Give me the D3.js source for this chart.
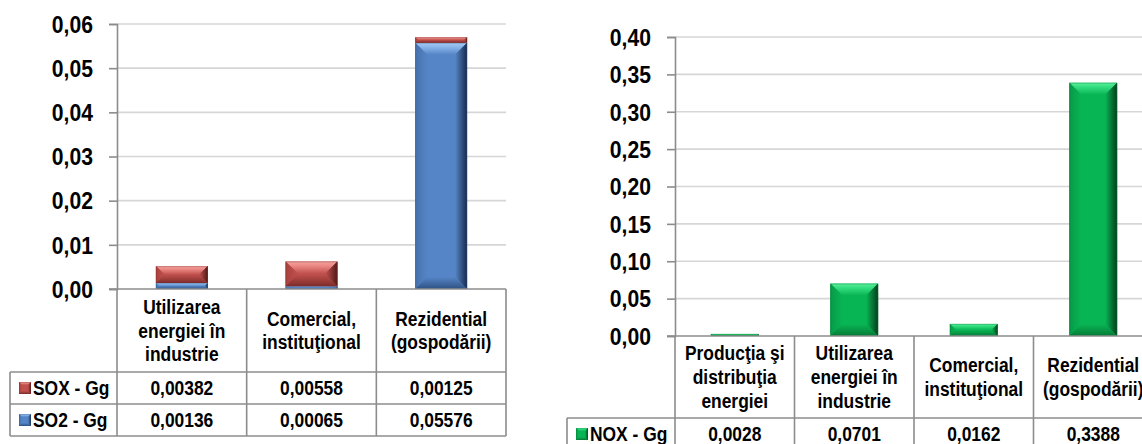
<!DOCTYPE html>
<html>
<head>
<meta charset="utf-8">
<script src="https://cdn.jsdelivr.net/npm/d3@7"></script>
<style>
  html, body { margin: 0; padding: 0; background: #fff; }
  svg { display: block; }
  text { font-family: 'Liberation Sans', Arial, sans-serif; font-weight: bold; fill: #000; }
</style>
</head>
<body>
<svg id="chart" width="1142" height="444"></svg>
<script>
// ---- data ----
const soCategories = ["Utilizarea\nenergiei în\nindustrie", "Comercial,\ninstituţional", "Rezidential\n(gospodării)"];
const soxValues = [0.00382, 0.00558, 0.00125];
const so2Values = [0.00136, 0.00065, 0.05576];
const soSeriesNames = ["SOX - Gg", "SO2 - Gg"];
const soTicks = [0, 0.01, 0.02, 0.03, 0.04, 0.05, 0.06];

const noxCategories = ["Producţia şi\ndistribuţia\nenergiei", "Utilizarea\nenergiei în\nindustrie", "Comercial,\ninstituţional", "Rezidential\n(gospodării)"];
const noxValues = [0.0028, 0.0701, 0.0162, 0.3388];
const noxSeriesNames = ["NOX - Gg"];
const noxTicks = [0, 0.05, 0.10, 0.15, 0.20, 0.25, 0.30, 0.35, 0.40];

// ---- helpers ----
const ro = d3.formatLocale({ decimal: ",", thousands: ".", grouping: [3], currency: ["", ""] });
const svg = d3.select("#chart");
const defs = svg.append("defs");

// condensed look for all labels
const CELL_SX = 0.87;
const TICK_SX = 0.92;

const palettes = {
  red:   { base: "#c0504d", light: "#ec8a86", hi: "#f4a5a1", dark: "#4e1816", bottom: "#7e2d2a", left: "#a9403d" },
  blue:  { base: "#5585c6", light: "#8ab6ea", hi: "#a8ccf4", dark: "#17294a", bottom: "#2f5283", left: "#4672ad" },
  green: { base: "#08b554", light: "#33de80", hi: "#5cf09c", dark: "#053d1c", bottom: "#077a37", left: "#079a47" }
};

// gradients for the bevelled faces of each colour
Object.entries(palettes).forEach(([name, p]) => {
  const lg = (id, x1, y1, x2, y2, stops) => {
    const g = defs.append("linearGradient").attr("id", id)
      .attr("x1", x1).attr("y1", y1).attr("x2", x2).attr("y2", y2);
    stops.forEach(([o, c]) => g.append("stop").attr("offset", o).attr("stop-color", c));
  };
  lg(`${name}-top`, 0, 0, 0, 1, [[0, p.hi], [0.35, p.light], [1, p.base]]);
  lg(`${name}-left`, 0, 0, 1, 0, [[0, p.left], [1, p.base]]);
  lg(`${name}-right`, 0, 0, 1, 0, [[0, p.base], [1, p.dark]]);
  lg(`${name}-bottom`, 0, 0, 0, 1, [[0, p.base], [1, p.bottom]]);
  lg(`${name}-body`, 0, 0, 1, 0, [[0, p.left], [0.25, p.base], [0.8, p.base], [1, p.bottom]]);
});

function bevelBar(g, x, y, w, h, color, maxBevel) {
  if (h <= 0) return;
  const b = Math.min(maxBevel, h / 2, w / 2);
  const p = palettes[color];
  const grp = g.append("g");
  grp.append("rect").attr("x", x).attr("y", y).attr("width", w).attr("height", h)
    .attr("fill", `url(#${color}-body)`);
  const poly = (pts, fill) => grp.append("polygon")
    .attr("points", pts.map(d => d.join(",")).join(" ")).attr("fill", fill);
  poly([[x, y], [x + w, y], [x + w - b, y + b], [x + b, y + b]], `url(#${color}-top)`);
  poly([[x, y], [x + b, y + b], [x + b, y + h - b], [x, y + h]], `url(#${color}-left)`);
  poly([[x + w, y], [x + w, y + h], [x + w - b, y + h - b], [x + w - b, y + b]], `url(#${color}-right)`);
  poly([[x, y + h], [x + w, y + h], [x + w - b, y + h - b], [x + b, y + h - b]], `url(#${color}-bottom)`);
  grp.append("rect").attr("x", x + 0.5).attr("y", y + 0.5).attr("width", Math.max(0, w - 1)).attr("height", Math.max(0, h - 1))
    .attr("fill", "none").attr("stroke", p.bottom).attr("stroke-opacity", 0.35).attr("stroke-width", 1);
}

// text placed at (x, y) and squeezed horizontally
function label(g, x, y, str, size, anchor) {
  return g.append("text")
    .attr("transform", `translate(${x},${y}) scale(${CELL_SX},1)`)
    .attr("text-anchor", anchor || "middle").attr("font-size", size)
    .attr("dy", "0.35em").text(str);
}

const lineColor = "#8c8c8c";
const gridColor = "#d6d6d6";

function drawPanel(cfg) {
  const g = svg.append("g");
  const x = d3.scaleBand().domain(cfg.categories).range([cfg.left, cfg.right]).padding(0);
  const y = d3.scaleLinear().domain([cfg.ticks[0], cfg.ticks[cfg.ticks.length - 1]]).range([cfg.bottom, cfg.top]);
  const fmtTick = ro.format(".2f");

  // gridlines
  g.append("g").selectAll("line").data(cfg.ticks.slice(1)).join("line")
    .attr("x1", cfg.left).attr("x2", cfg.gridRight)
    .attr("y1", d => y(d)).attr("y2", d => y(d))
    .attr("stroke", gridColor).attr("stroke-width", 1.6);

  // value axis
  const tickSize = 8, tickPad = 16;
  const yAxis = d3.axisLeft(y).tickValues(cfg.ticks).tickFormat(fmtTick).tickSize(tickSize).tickPadding(tickPad);
  const ay = g.append("g").attr("transform", `translate(${cfg.left},0)`).call(yAxis);
  ay.select(".domain").attr("stroke", lineColor).attr("stroke-width", 1.6);
  ay.selectAll(".tick line").attr("stroke", lineColor).attr("stroke-width", 1.6);
  ay.selectAll(".tick text").attr("font-size", cfg.tickFont).attr("font-family", null)
    .attr("fill", "#000").attr("dy", "0.36em").attr("x", 0)
    .attr("transform", `translate(${-(tickSize + tickPad)},0) scale(${TICK_SX},1)`);

  // bars
  const barW = x.bandwidth() * 0.4;
  const bars = g.append("g");
  cfg.stack.forEach(layer => {
    layer.forEach((seg, i) => {
      const cat = cfg.categories[i];
      const x0 = x(cat) + (x.bandwidth() - barW) / 2;
      const yTop = y(seg[1]), yBot = y(seg[0]);
      bevelBar(bars, x0, yTop, barW, yBot - yTop, cfg.colors[layer.key], cfg.bevel);
    });
  });

  // data table
  const t = g.append("g");
  const rowH = cfg.rowH;
  const headBottom = cfg.headBottom;
  const nRows = cfg.rows.length;
  const tableBottom = headBottom + rowH * nRows;

  // category axis line across the plot bottom
  t.append("line").attr("x1", cfg.left - 8).attr("x2", cfg.right)
    .attr("y1", cfg.bottom).attr("y2", cfg.bottom)
    .attr("stroke", lineColor).attr("stroke-width", 1.6);

  // vertical separators in header and rows
  const edges = cfg.categories.map(c => x(c)).concat([cfg.right]);
  t.selectAll("line.v").data(edges).join("line").attr("class", "v")
    .attr("x1", d => d).attr("x2", d => d)
    .attr("y1", cfg.bottom).attr("y2", tableBottom)
    .attr("stroke", lineColor).attr("stroke-width", 1.6);
  // legend column left edge
  t.append("line").attr("x1", cfg.tableLeft).attr("x2", cfg.tableLeft)
    .attr("y1", headBottom).attr("y2", tableBottom)
    .attr("stroke", lineColor).attr("stroke-width", 1.6);
  // horizontal row lines
  d3.range(nRows + 1).forEach(r => {
    t.append("line").attr("x1", cfg.tableLeft).attr("x2", cfg.right)
      .attr("y1", headBottom + r * rowH).attr("y2", headBottom + r * rowH)
      .attr("stroke", lineColor).attr("stroke-width", 1.6);
  });

  // header text
  const lh = cfg.lineH;
  const headMid = (cfg.bottom + headBottom) / 2;
  cfg.categories.forEach(c => {
    const lines = c.split("\n");
    const txt = t.append("text").attr("text-anchor", "middle").attr("font-size", cfg.cellFont)
      .attr("transform", `translate(${x(c) + x.bandwidth() / 2},${headMid}) scale(${CELL_SX},1)`);
    lines.forEach((ln, k) => {
      txt.append("tspan").attr("x", 0)
        .attr("y", (k - (lines.length - 1) / 2) * lh)
        .attr("dy", "0.35em").text(ln);
    });
  });

  // rows
  cfg.rows.forEach((row, r) => {
    const cy = headBottom + r * rowH + rowH / 2;
    bevelBar(t, cfg.markerX, cy - 6, 12, 12, row.color, 3);
    label(t, cfg.markerX + 14, cy, row.name, cfg.cellFont, "start");
    row.values.forEach((v, i) => {
      const c = cfg.categories[i];
      label(t, x(c) + x.bandwidth() / 2, cy, cfg.valueFormat(v), cfg.cellFont, "middle");
    });
  });
}

// ---- left panel: SOX / SO2 stacked ----
const soRows = soCategories.map((c, i) => ({ cat: c, SO2: so2Values[i], SOX: soxValues[i] }));
const soStack = d3.stack().keys(["SO2", "SOX"])(soRows);
drawPanel({
  categories: soCategories, ticks: soTicks, stack: soStack,
  colors: { SO2: "blue", SOX: "red" },
  left: 117, right: 506, gridRight: 506, top: 24, bottom: 289,
  headBottom: 372, rowH: 32, tableLeft: 10, markerX: 19,
  lineH: 23.5, cellFont: 20, tickFont: 23, bevel: 12,
  valueFormat: ro.format(".5f"),
  rows: [
    { name: soSeriesNames[0], color: "red", values: soxValues },
    { name: soSeriesNames[1], color: "blue", values: so2Values }
  ]
});

// ---- right panel: NOX ----
const noxRows = noxCategories.map((c, i) => ({ cat: c, NOX: noxValues[i] }));
const noxStack = d3.stack().keys(["NOX"])(noxRows);
drawPanel({
  categories: noxCategories, ticks: noxTicks, stack: noxStack,
  colors: { NOX: "green" },
  left: 675, right: 1153, gridRight: 1153, top: 37, bottom: 336,
  headBottom: 418, rowH: 32, tableLeft: 567, markerX: 576,
  lineH: 24, cellFont: 20, tickFont: 23, bevel: 12,
  valueFormat: ro.format(".4f"),
  rows: [
    { name: noxSeriesNames[0], color: "green", values: noxValues }
  ]
});
</script>
</body>
</html>
